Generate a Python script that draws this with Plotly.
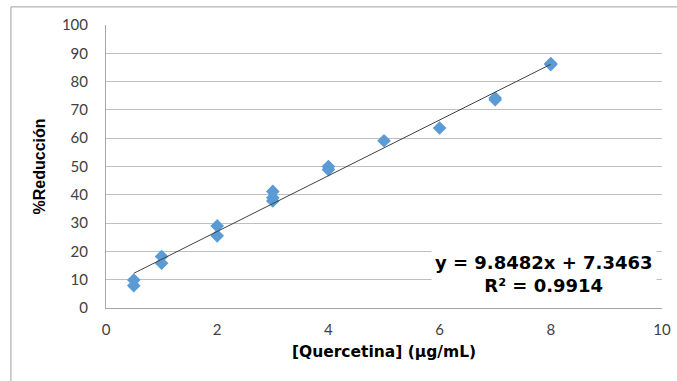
import plotly.graph_objects as go

# Quercetin concentration (µg/mL) and measured % reduction
concentracion = [0.5, 0.5, 1, 1, 2, 2, 3, 3, 3, 4, 4, 5, 6, 7, 7, 8, 8]
reduccion = [9.9, 7.9, 18.2, 15.8, 29.0, 25.5, 41.2, 39.0, 37.8, 50.0, 48.9, 59.1, 63.6, 73.6, 74.2, 86.0, 86.4]

# Linear fit reported on the chart
pendiente = 9.8482
intercepto = 7.3463
r2 = 0.9914
x_fit = [min(concentracion), max(concentracion)]
y_fit = [pendiente * x + intercepto for x in x_fit]

x_ticks = [0, 2, 4, 6, 8, 10]
y_ticks = [0, 10, 20, 30, 40, 50, 60, 70, 80, 90, 100]

fig = go.Figure()

fig.add_trace(go.Scatter(
    x=concentracion, y=reduccion, mode="markers",
    marker=dict(symbol="diamond", size=10.5, color="#5B9BD5", line=dict(width=0)),
    showlegend=False, cliponaxis=False,
))

fig.add_trace(go.Scatter(
    x=x_fit, y=y_fit, mode="lines",
    line=dict(color="#404040", width=1),
    showlegend=False,
))

tick_font = dict(family="Lato, Open Sans, sans-serif", size=15, color="#404040")

fig.update_layout(
    width=677, height=381,
    margin=dict(l=106, r=15, t=25, b=73, autoexpand=False),
    paper_bgcolor="white", plot_bgcolor="white",
    xaxis=dict(
        range=[0, 10], tickvals=x_ticks, showgrid=False, zeroline=False,
        automargin=False, ticklabeloverflow="allow",
        showline=True, linecolor="#A6A6A6", linewidth=1,
        tickfont=tick_font, ticks="outside", ticklen=8, tickcolor="rgba(0,0,0,0)",
        title=dict(text="<b>[Quercetina] (µg/mL)</b>", standoff=9,
                   font=dict(family="DejaVu Sans, sans-serif", size=15.5, color="#000000")),
    ),
    yaxis=dict(
        range=[0, 100], tickvals=y_ticks, showgrid=True, gridcolor="#BFBFBF", gridwidth=1,
        zeroline=False, automargin=False,
        showline=True, linecolor="#A6A6A6", linewidth=1,
        tickfont=tick_font, ticks="outside", ticklen=14, tickcolor="rgba(0,0,0,0)",
        title=dict(text="<b>%Reducción</b>", standoff=12,
                   font=dict(family="Liberation Sans, Arial, sans-serif", size=16, color="#000000")),
    ),
    annotations=[dict(
        x=0.788, y=0.12, xref="paper", yref="paper", xanchor="center", yanchor="middle",
        text=f"<b>y = {pendiente}x + {intercepto}<br>R² = {r2}</b>",
        showarrow=False, align="center", bgcolor="white", borderpad=3,
        font=dict(family="DejaVu Sans, sans-serif", size=18, color="#000000"),
    )],
    shapes=[dict(
        type="rect", xref="paper", yref="paper",
        x0=-0.171, x1=1.06, y0=-0.3, y1=1.064,
        line=dict(color="#A0A0A0", width=1), fillcolor="rgba(0,0,0,0)", layer="below",
    )],
)

fig.write_html("out.html")
